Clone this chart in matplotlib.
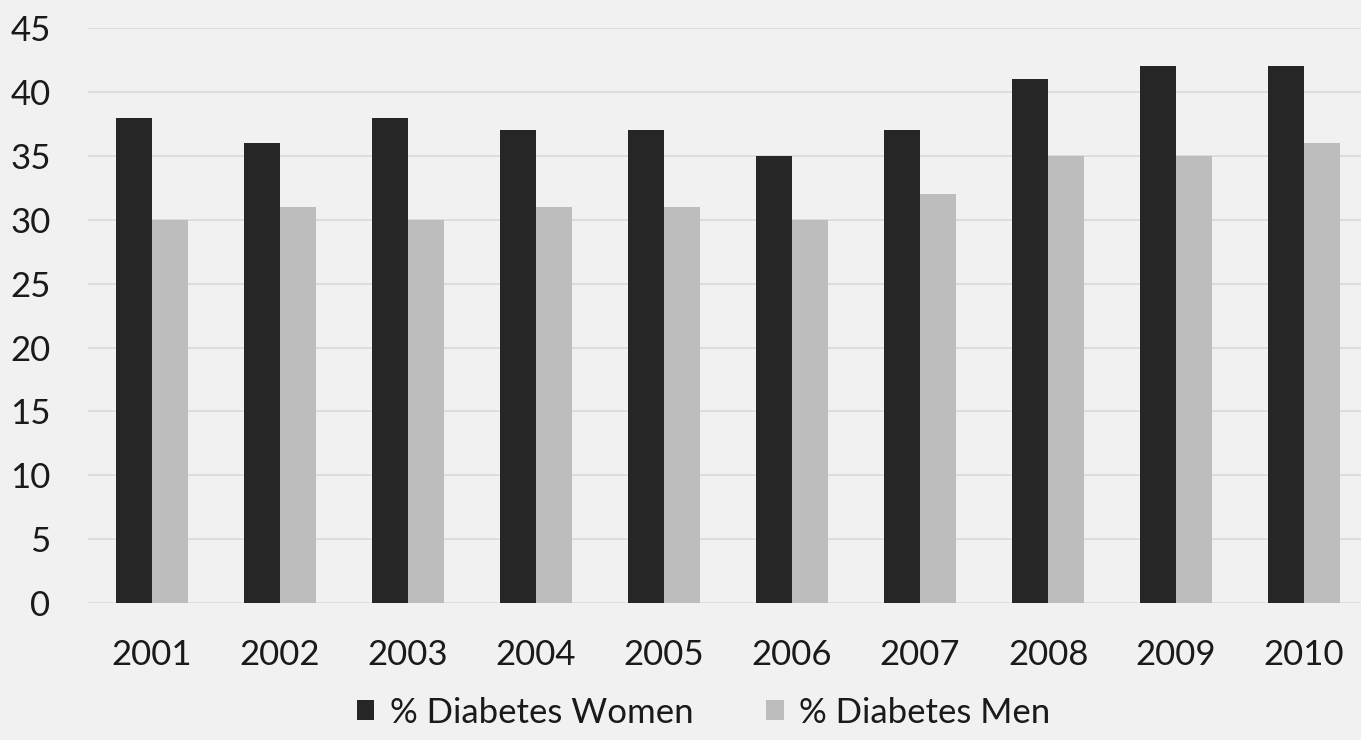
import numpy as np
import matplotlib.pyplot as plt

years = ['2001', '2002', '2003', '2004', '2005', '2006', '2007', '2008', '2009', '2010']
women = [38, 36, 38, 37, 37, 35, 37, 41, 42, 42]
men = [30, 31, 30, 31, 31, 30, 32, 35, 35, 36]
yticks = [0, 5, 10, 15, 20, 25, 30, 35, 40, 45]

plt.rcParams['font.family'] = ['Lato', 'DejaVu Sans']

fig = plt.figure(figsize=(13.61, 7.40), dpi=100)
fig.patch.set_facecolor('#f1f1f1')
ax = fig.add_axes([0.0647, 0.185, 0.9405, 0.777])
ax.set_facecolor('#f1f1f1')

x = np.arange(len(years))
w = 0.28
ax.bar(x - w / 2, women, width=w, color='#262626', label='% Diabetes Women', zorder=3)
ax.bar(x + w / 2, men, width=w, color='#bdbdbd', label='% Diabetes Men', zorder=3)

ax.set_xlim(-0.5, len(years) - 0.5)
ax.set_ylim(0, 45)
ax.set_yticks(yticks)
ax.set_xticks(x)
ax.set_xticklabels(years)
ax.tick_params(axis='both', length=0, labelsize=25, colors='#1a1a1a')
ax.tick_params(axis='y', pad=27)
ax.tick_params(axis='x', pad=26)
ax.yaxis.grid(True, color='#d9d9d9', linewidth=1.2, zorder=0)
for s in ax.spines.values():
    s.set_visible(False)

fig.legend(loc='center', bbox_to_anchor=(0.517, 0.037), ncol=2, frameon=False,
           fontsize=25, handlelength=0.5, handleheight=0.5, handletextpad=0.45,
           columnspacing=2.1, labelcolor='#1a1a1a')

fig.savefig('out.png', dpi=100, facecolor=fig.get_facecolor())
